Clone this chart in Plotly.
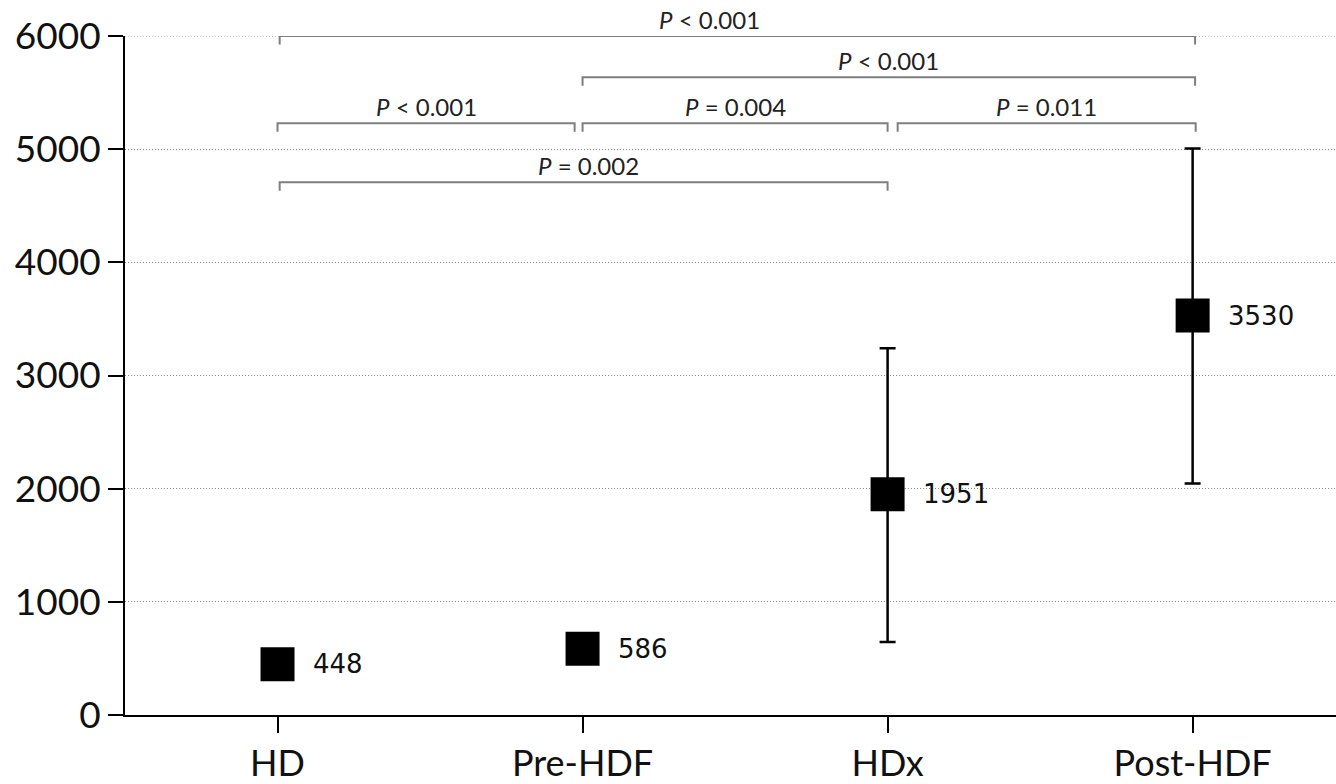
import plotly.graph_objects as go

# ---- data ----
categories = ["HD", "Pre-HDF", "HDx", "Post-HDF"]
means = [448, 586, 1951, 3530]
upper = [None, None, 3240, 5005]
lower = [None, None, 645, 2045]
value_labels = ["448", "586", "1951", "3530"]

# comparisons: (from index, to index, bracket level, label)
comp_from = [0, 1, 0, 1, 2, 0]
comp_to = [3, 3, 1, 2, 3, 2]
comp_level = [6000, 5636, 5230, 5230, 5230, 4708]
comp_label = ["<i>P</i> < 0.001", "<i>P</i> < 0.001", "<i>P</i> < 0.001",
              "<i>P</i> = 0.004", "<i>P</i> = 0.011", "<i>P</i> = 0.002"]

y_ticks = [0, 1000, 2000, 3000, 4000, 5000, 6000]

# ---- styles ----
FONT = "Lato"
BRACKET_COLOR = "#7f7f7f"
GRID_COLOR = "#8a8a8a"
label_dx = [-0.09, 0, 0, 0, 0, 0.015]     # small label offsets (category units)
start_gap = [0.007, 0.0, 0.0, 0.0, 0.033, 0.007]
end_gap = [0.008, 0.008, -0.026, 0.0, 0.01, 0.0]
tick_len = 75  # bracket end tick in data units

xi = list(range(len(categories)))
err_plus = [None if u is None else u - m for u, m in zip(upper, means)]
err_minus = [None if l is None else m - l for l, m in zip(lower, means)]

fig = go.Figure()
fig.add_trace(go.Scatter(
    x=xi, y=means, mode="markers",
    marker=dict(symbol="square", size=34, color="black"),
    error_y=dict(type="data", symmetric=False, array=err_plus, arrayminus=err_minus,
                 color="black", thickness=2.5, width=8),
    cliponaxis=False, showlegend=False, hoverinfo="skip",
))

for i, (m, t) in enumerate(zip(means, value_labels)):
    fig.add_annotation(x=i, y=m, xref="x", yref="y", text=t, showarrow=False,
                       xanchor="left", yanchor="middle", xshift=33,
                       font=dict(family="DejaVu Sans", size=26, color="#111"))

# top gridline (plotly clips gridlines at the range edge)
fig.add_shape(type="line", xref="paper", yref="y", x0=0, x1=1,
              y0=y_ticks[-1], y1=y_ticks[-1], layer="below",
              line=dict(color=GRID_COLOR, width=1.2, dash="1px,2px"))

for k in range(len(comp_from)):
    x0 = comp_from[k] + start_gap[k]
    x1 = comp_to[k] + end_gap[k]
    yl = comp_level[k]
    fig.add_shape(type="path", xref="x", yref="y",
                  path=f"M {x0},{yl - tick_len} L {x0},{yl} L {x1},{yl} L {x1},{yl - tick_len}",
                  line=dict(color=BRACKET_COLOR, width=2))
    fig.add_annotation(x=(x0 + x1) / 2 + label_dx[k], y=yl, xref="x", yref="y",
                       text=comp_label[k], showarrow=False, yanchor="middle", yshift=17,
                       font=dict(family=FONT, size=24, color="#222"))

fig.update_layout(
    width=1336, height=784,
    margin=dict(l=125, r=0, t=36, b=69),
    paper_bgcolor="white", plot_bgcolor="white",
    xaxis=dict(range=[-0.5, 3.47], tickmode="array", tickvals=xi, ticktext=categories,
               showline=True, linecolor="black", linewidth=2, ticks="outside",
               ticklen=16, tickwidth=2, tickcolor="black", showgrid=False, zeroline=False,
               tickfont=dict(family=FONT, size=36, color="#111")),
    yaxis=dict(range=[0, 6000], tickmode="array", tickvals=y_ticks,
               showline=True, linecolor="black", linewidth=2, ticks="outside",
               ticklen=15, tickwidth=2, tickcolor="black", zeroline=False,
               showgrid=True, gridcolor=GRID_COLOR, gridwidth=1.2, griddash="1px,2px",
               tickfont=dict(family=FONT, size=37, color="#111")),
)

fig.write_html("out.html")
